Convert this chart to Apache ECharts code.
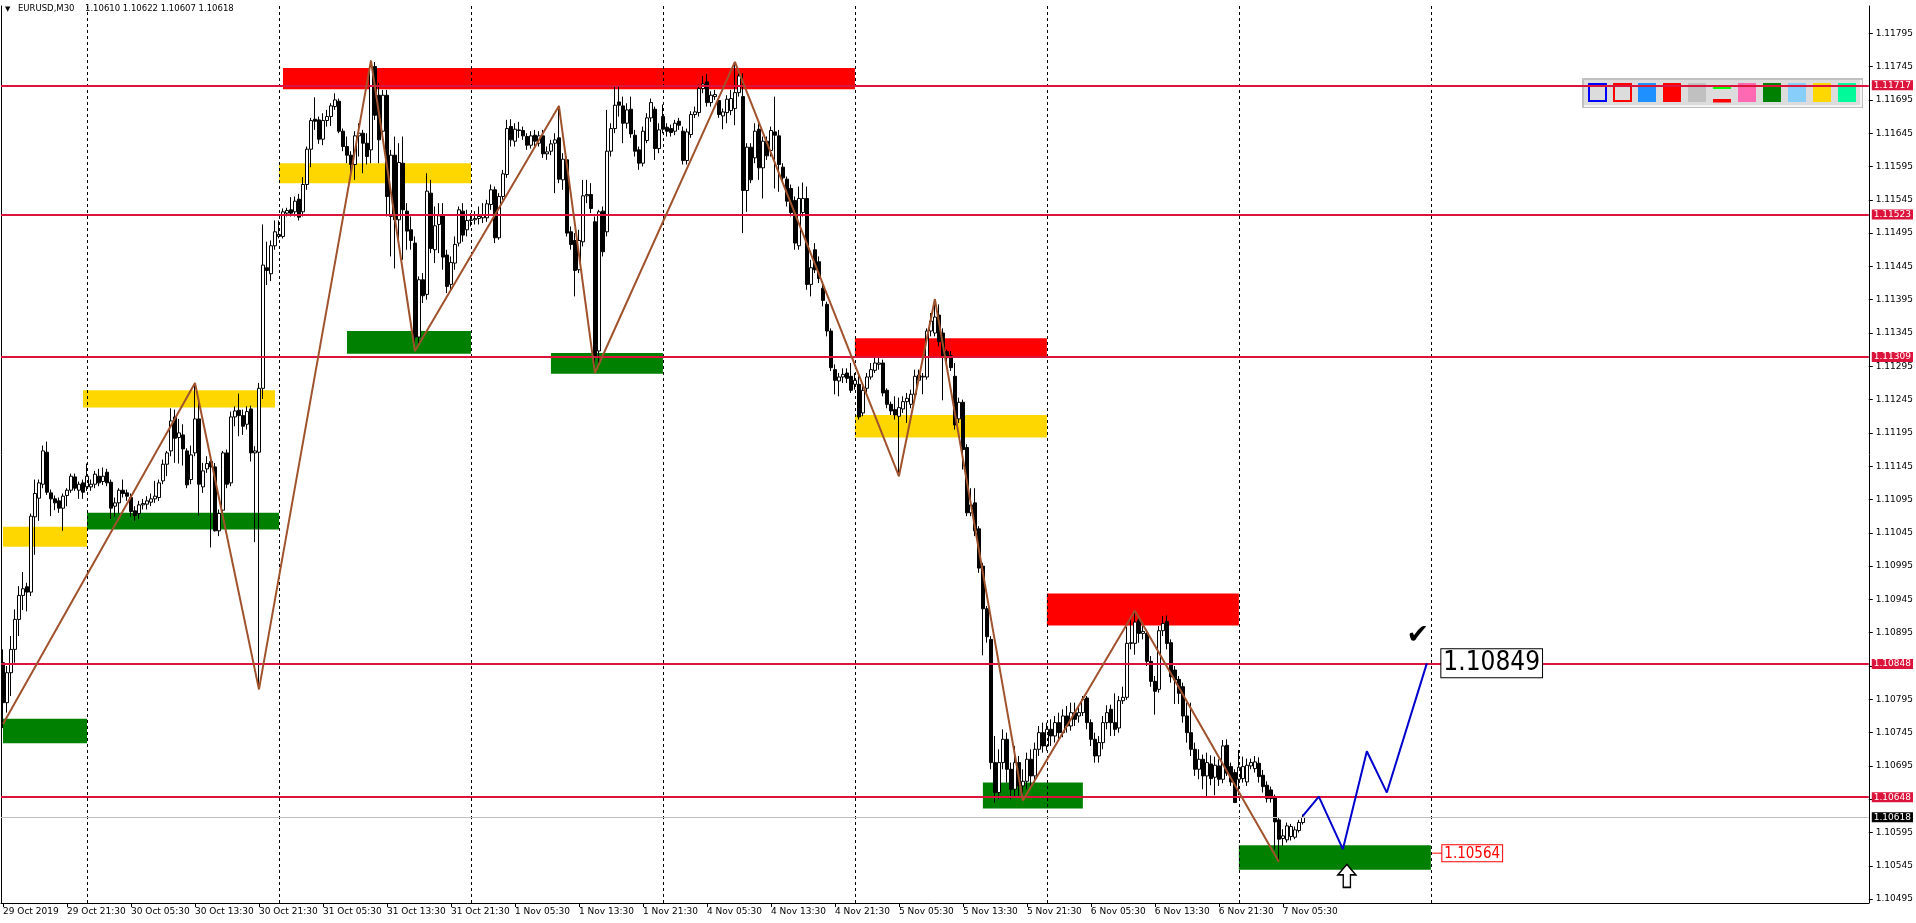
<!DOCTYPE html>
<html><head><meta charset="utf-8">
<script src="https://cdn.jsdelivr.net/npm/echarts@6/dist/echarts.min.js"></script>
<style>html,body{margin:0;padding:0;background:#fff}#c{width:1916px;height:923px}</style>
</head><body><div id="c"></div>
<script>
// ---------------- DATA ----------------
const opens=[
1.10850,1.10790,1.10835,1.10870,1.10915,1.10951,1.10964,1.10956,1.11069,1.11097,
1.11118,1.11166,1.11105,1.11096,1.11093,1.11082,1.11101,1.11109,1.11129,1.11109,
1.11120,1.11114,1.11114,1.11118,1.11130,1.11122,1.11136,1.11121,1.11085,1.11090,
1.11109,1.11105,1.11098,1.11078,1.11074,1.11087,1.11088,1.11091,1.11096,1.11098,
1.11123,1.11148,1.11168,1.11219,1.11188,1.11192,1.11168,1.11125,1.11165,1.11216,
1.11114,1.11141,1.11152,1.11144,1.11048,1.11079,1.11165,1.11120,1.11219,1.11229,
1.11221,1.11208,1.11231,1.11165,1.11166,1.11262,1.11443,1.11434,1.11476,1.11490,
1.11490,1.11525,1.11530,1.11527,1.11546,1.11527,1.11568,1.11621,1.11666,1.11665,
1.11636,1.11664,1.11670,1.11685,1.11693,1.11648,1.11625,1.11612,1.11598,1.11641,
1.11645,1.11630,1.11620,1.11745,1.11702,1.11648,1.11702,1.11520,1.11612,1.11515,
1.11600,1.11528,1.11500,1.11480,1.11339,1.11425,1.11403,1.11555,1.11470,1.11508,
1.11521,1.11462,1.11418,1.11450,1.11480,1.11528,1.11500,1.11514,1.11515,1.11517,
1.11518,1.11518,1.11538,1.11560,1.11488,1.11550,1.11583,1.11655,1.11633,1.11650,
1.11649,1.11640,1.11627,1.11642,1.11630,1.11641,1.11614,1.11618,1.11630,1.11638,
1.11575,1.11605,1.11497,1.11484,1.11440,1.11482,1.11551,1.11553,1.11512,1.11318,
1.11528,1.11497,1.11618,1.11652,1.11692,1.11686,1.11660,1.11681,1.11642,1.11620,
1.11600,1.11634,1.11668,1.11681,1.11622,1.11670,1.11654,1.11652,1.11648,1.11663,
1.11648,1.11604,1.11643,1.11673,1.11676,1.11712,1.11722,1.11691,1.11700,1.11694,
1.11671,1.11676,1.11679,1.11682,1.11706,1.11700,1.11559,1.11624,1.11608,1.11651,
1.11593,1.11633,1.11619,1.11647,1.11641,1.11594,1.11576,1.11562,1.11544,1.11476,
1.11526,1.11547,1.11418,1.11470,1.11452,1.11412,1.11388,1.11348,1.11290,1.11273,
1.11279,1.11285,1.11280,1.11268,1.11268,1.11225,1.11262,1.11279,1.11289,1.11298,
1.11300,1.11259,1.11238,1.11230,1.11220,1.11231,1.11242,1.11238,1.11253,1.11274,
1.11279,1.11279,1.11348,1.11345,1.11372,1.11345,1.11317,1.11311,1.11280,1.11216,
1.11241,1.11173,1.11075,1.11090,1.11051,1.10995,1.10931,1.10885,1.10700,1.10655,
1.10700,1.10735,1.10690,1.10660,1.10700,1.10665,1.10672,1.10705,1.10680,1.10720,
1.10745,1.10725,1.10750,1.10740,1.10760,1.10745,1.10770,1.10755,1.10775,1.10770,
1.10775,1.10797,1.10760,1.10735,1.10710,1.10730,1.10760,1.10780,1.10760,1.10752,
1.10793,1.10798,1.10879,1.10879,1.10914,1.10894,1.10894,1.10852,1.10822,1.10810,
1.10898,1.10912,1.10880,1.10839,1.10825,1.10814,1.10770,1.10745,1.10720,1.10690,
1.10705,1.10680,1.10698,1.10678,1.10695,1.10675,1.10726,1.10694,1.10685,1.10675,
1.10676,1.10671,1.10695,1.10691,1.10699,1.10681,1.10666,1.10659,1.10649,1.10614,
1.10586,1.10584,1.10589,1.10588,1.10598,1.10610];
const highs=[
1.10870,1.10845,1.10890,1.10930,1.10965,1.10986,1.10970,1.11074,1.11125,1.11125,
1.11176,1.11182,1.11110,1.11101,1.11098,1.11104,1.11112,1.11134,1.11134,1.11122,
1.11125,1.11149,1.11125,1.11138,1.11141,1.11143,1.11141,1.11125,1.11098,1.11112,
1.11125,1.11110,1.11104,1.11085,1.11093,1.11096,1.11100,1.11104,1.11123,1.11125,
1.11155,1.11168,1.11232,1.11230,1.11216,1.11208,1.11172,1.11176,1.11270,1.11240,
1.11150,1.11160,1.11160,1.11150,1.11080,1.11168,1.11170,1.11227,1.11235,1.11254,
1.11230,1.11235,1.11236,1.11175,1.11270,1.11508,1.11482,1.11484,1.11514,1.11514,
1.11532,1.11533,1.11549,1.11550,1.11554,1.11579,1.11625,1.11668,1.11699,1.11670,
1.11675,1.11680,1.11690,1.11705,1.11697,1.11652,1.11640,1.11618,1.11648,1.11660,
1.11650,1.11645,1.11754,1.11752,1.11720,1.11710,1.11710,1.11620,1.11640,1.11630,
1.11640,1.11540,1.11520,1.11490,1.11430,1.11435,1.11585,1.11575,1.11535,1.11540,
1.11540,1.11470,1.11460,1.11490,1.11535,1.11540,1.11530,1.11525,1.11528,1.11535,
1.11540,1.11545,1.11568,1.11565,1.11555,1.11590,1.11665,1.11666,1.11660,1.11662,
1.11655,1.11645,1.11648,1.11650,1.11648,1.11650,1.11625,1.11635,1.11645,1.11686,
1.11615,1.11610,1.11505,1.11495,1.11500,1.11575,1.11575,1.11570,1.11520,1.11530,
1.11535,1.11680,1.11660,1.11715,1.11715,1.11700,1.11690,1.11700,1.11650,1.11625,
1.11655,1.11675,1.11697,1.11685,1.11660,1.11688,1.11660,1.11658,1.11665,1.11668,
1.11655,1.11652,1.11678,1.11685,1.11718,1.11731,1.11734,1.11708,1.11710,1.11700,
1.11682,1.11702,1.11710,1.11752,1.11740,1.11735,1.11630,1.11630,1.11660,1.11660,
1.11640,1.11640,1.11655,1.11700,1.11650,1.11600,1.11580,1.11568,1.11550,1.11565,
1.11571,1.11565,1.11455,1.11480,1.11460,1.11420,1.11392,1.11352,1.11298,1.11285,
1.11292,1.11292,1.11300,1.11285,1.11285,1.11265,1.11285,1.11300,1.11310,1.11308,
1.11305,1.11262,1.11242,1.11250,1.11248,1.11250,1.11255,1.11260,1.11290,1.11290,
1.11285,1.11352,1.11375,1.11396,1.11388,1.11352,1.11320,1.11318,1.11300,1.11248,
1.11245,1.11178,1.11112,1.11112,1.11055,1.11000,1.10935,1.10890,1.10740,1.10720,
1.10750,1.10745,1.10700,1.10725,1.10710,1.10690,1.10715,1.10720,1.10730,1.10755,
1.10760,1.10760,1.10765,1.10770,1.10775,1.10780,1.10785,1.10790,1.10790,1.10785,
1.10800,1.10800,1.10765,1.10745,1.10740,1.10770,1.10786,1.10787,1.10804,1.10800,
1.10814,1.10904,1.10916,1.10928,1.10920,1.10905,1.10900,1.10860,1.10830,1.10905,
1.10920,1.10921,1.10885,1.10845,1.10830,1.10820,1.10790,1.10790,1.10730,1.10720,
1.10712,1.10715,1.10711,1.10709,1.10705,1.10734,1.10735,1.10700,1.10690,1.10719,
1.10709,1.10706,1.10706,1.10710,1.10708,1.10689,1.10672,1.10664,1.10652,1.10618,
1.10600,1.10610,1.10608,1.10604,1.10614,1.10622];
const lows=[
1.10752,1.10775,1.10800,1.10850,1.10890,1.10929,1.10927,1.10950,1.11012,1.11063,
1.11112,1.11102,1.11070,1.11079,1.11075,1.11048,1.11085,1.11105,1.11108,1.11096,
1.11096,1.11108,1.11108,1.11112,1.11115,1.11117,1.11115,1.11066,1.11069,1.11074,
1.11098,1.11093,1.11069,1.11063,1.11066,1.11080,1.11080,1.11085,1.11090,1.11093,
1.11118,1.11130,1.11160,1.11150,1.11149,1.11146,1.11112,1.11118,1.11160,1.11071,
1.11105,1.11135,1.11023,1.11047,1.11040,1.11075,1.11112,1.11115,1.11205,1.11190,
1.11192,1.11200,1.11152,1.11031,1.10810,1.11246,1.11417,1.11423,1.11470,1.11487,
1.11487,1.11520,1.11520,1.11520,1.11514,1.11520,1.11560,1.11594,1.11650,1.11629,
1.11627,1.11655,1.11656,1.11680,1.11645,1.11618,1.11600,1.11583,1.11575,1.11610,
1.11585,1.11598,1.11600,1.11665,1.11600,1.11640,1.11520,1.11460,1.11442,1.11480,
1.11455,1.11470,1.11470,1.11318,1.11325,1.11390,1.11395,1.11465,1.11450,1.11465,
1.11440,1.11405,1.11410,1.11440,1.11475,1.11482,1.11490,1.11505,1.11508,1.11508,
1.11510,1.11512,1.11530,1.11480,1.11485,1.11545,1.11578,1.11625,1.11625,1.11638,
1.11635,1.11620,1.11622,1.11625,1.11625,1.11608,1.11605,1.11612,1.11555,1.11570,
1.11560,1.11490,1.11470,1.11400,1.11435,1.11475,1.11540,1.11525,1.11285,1.11300,
1.11460,1.11490,1.11610,1.11645,1.11670,1.11630,1.11652,1.11638,1.11610,1.11590,
1.11595,1.11630,1.11662,1.11605,1.11615,1.11645,1.11640,1.11640,1.11642,1.11650,
1.11598,1.11598,1.11638,1.11668,1.11670,1.11705,1.11685,1.11685,1.11695,1.11668,
1.11651,1.11660,1.11672,1.11657,1.11700,1.11495,1.11527,1.11570,1.11600,1.11575,
1.11547,1.11605,1.11610,1.11562,1.11557,1.11570,1.11535,1.11520,1.11470,1.11470,
1.11520,1.11410,1.11400,1.11435,1.11420,1.11385,1.11340,1.11288,1.11253,1.11250,
1.11270,1.11270,1.11255,1.11260,1.11215,1.11220,1.11255,1.11275,1.11285,1.11290,
1.11250,1.11232,1.11222,1.11215,1.11130,1.11225,1.11210,1.11232,1.11248,1.11270,
1.11253,1.11275,1.11340,1.11340,1.11325,1.11244,1.11300,1.11288,1.11200,1.11210,
1.11140,1.11070,1.11070,1.11040,1.10985,1.10861,1.10880,1.10690,1.10640,1.10645,
1.10690,1.10670,1.10645,1.10650,1.10650,1.10643,1.10660,1.10665,1.10670,1.10710,
1.10715,1.10718,1.10725,1.10730,1.10735,1.10738,1.10745,1.10748,1.10755,1.10760,
1.10770,1.10750,1.10725,1.10700,1.10700,1.10720,1.10750,1.10740,1.10740,1.10745,
1.10788,1.10794,1.10870,1.10862,1.10880,1.10885,1.10845,1.10814,1.10772,1.10805,
1.10890,1.10870,1.10820,1.10788,1.10788,1.10760,1.10730,1.10710,1.10680,1.10675,
1.10660,1.10650,1.10666,1.10651,1.10665,1.10669,1.10680,1.10665,1.10640,1.10651,
1.10670,1.10665,1.10690,1.10685,1.10670,1.10655,1.10640,1.10640,1.10569,1.10551,
1.10575,1.10580,1.10583,1.10585,1.10595,1.10607];
const closes=[
1.10790,1.10835,1.10870,1.10915,1.10951,1.10961,1.10956,1.11070,1.11104,1.11120,
1.11168,1.11106,1.11096,1.11090,1.11082,1.11100,1.11109,1.11130,1.11112,1.11118,
1.11106,1.11130,1.11118,1.11133,1.11120,1.11130,1.11120,1.11082,1.11090,1.11109,
1.11104,1.11100,1.11077,1.11071,1.11087,1.11089,1.11093,1.11096,1.11100,1.11120,
1.11148,1.11165,1.11213,1.11187,1.11195,1.11171,1.11117,1.11162,1.11216,1.11118,
1.11138,1.11149,1.11144,1.11048,1.11074,1.11165,1.11118,1.11219,1.11228,1.11221,
1.11205,1.11227,1.11165,1.11168,1.11262,1.11447,1.11439,1.11476,1.11497,1.11493,
1.11527,1.11529,1.11525,1.11543,1.11519,1.11568,1.11621,1.11664,1.11663,1.11636,
1.11664,1.11670,1.11686,1.11695,1.11648,1.11625,1.11612,1.11598,1.11641,1.11645,
1.11630,1.11610,1.11745,1.11672,1.11635,1.11702,1.11550,1.11612,1.11515,1.11601,
1.11530,1.11498,1.11484,1.11339,1.11425,1.11401,1.11558,1.11472,1.11506,1.11521,
1.11459,1.11415,1.11451,1.11478,1.11530,1.11492,1.11514,1.11515,1.11517,1.11520,
1.11522,1.11539,1.11560,1.11488,1.11550,1.11584,1.11652,1.11635,1.11651,1.11649,
1.11641,1.11627,1.11641,1.11633,1.11641,1.11614,1.11617,1.11629,1.11635,1.11576,
1.11606,1.11495,1.11478,1.11439,1.11484,1.11551,1.11553,1.11532,1.11310,1.11527,
1.11467,1.11618,1.11652,1.11687,1.11687,1.11660,1.11680,1.11644,1.11618,1.11600,
1.11648,1.11668,1.11691,1.11622,1.11650,1.11651,1.11648,1.11646,1.11660,1.11657,
1.11604,1.11647,1.11673,1.11677,1.11712,1.11719,1.11691,1.11702,1.11703,1.11673,
1.11677,1.11696,1.11697,1.11706,1.11731,1.11559,1.11624,1.11575,1.11648,1.11593,
1.11633,1.11611,1.11649,1.11642,1.11598,1.11578,1.11543,1.11526,1.11480,1.11547,
1.11547,1.11418,1.11443,1.11440,1.11427,1.11394,1.11348,1.11293,1.11274,1.11279,
1.11283,1.11277,1.11259,1.11274,1.11219,1.11259,1.11279,1.11290,1.11300,1.11300,
1.11255,1.11238,1.11228,1.11222,1.11233,1.11242,1.11247,1.11253,1.11280,1.11282,
1.11280,1.11348,1.11363,1.11369,1.11332,1.11311,1.11308,1.11293,1.11207,1.11241,
1.11170,1.11075,1.11087,1.11048,1.10992,1.10931,1.10889,1.10700,1.10655,1.10700,
1.10735,1.10690,1.10660,1.10700,1.10665,1.10672,1.10705,1.10680,1.10720,1.10745,
1.10725,1.10750,1.10740,1.10760,1.10745,1.10770,1.10755,1.10775,1.10765,1.10775,
1.10795,1.10760,1.10735,1.10710,1.10730,1.10760,1.10775,1.10760,1.10750,1.10793,
1.10798,1.10879,1.10880,1.10911,1.10894,1.10897,1.10852,1.10822,1.10807,1.10898,
1.10909,1.10879,1.10829,1.10824,1.10804,1.10770,1.10745,1.10720,1.10690,1.10705,
1.10680,1.10700,1.10676,1.10696,1.10675,1.10725,1.10684,1.10671,1.10640,1.10693,
1.10694,1.10696,1.10700,1.10701,1.10679,1.10664,1.10646,1.10646,1.10611,1.10585,
1.10590,1.10605,1.10604,1.10599,1.10610,1.10618];

const xTickLabels=['29 Oct 2019','29 Oct 21:30','30 Oct 05:30','30 Oct 13:30','30 Oct 21:30',
'31 Oct 05:30','31 Oct 13:30','31 Oct 21:30','1 Nov 05:30','1 Nov 13:30','1 Nov 21:30',
'4 Nov 05:30','4 Nov 13:30','4 Nov 21:30','5 Nov 05:30','5 Nov 13:30','5 Nov 21:30',
'6 Nov 05:30','6 Nov 13:30','6 Nov 21:30','7 Nov 05:30'];
const yTickValues=[1.10495,1.10545,1.10595,1.10645,1.10695,1.10745,1.10795,1.10845,1.10895,
1.10945,1.10995,1.11045,1.11095,1.11145,1.11195,1.11245,1.11295,1.11345,1.11395,1.11445,
1.11495,1.11545,1.11595,1.11645,1.11695,1.11745,1.11795];
const hLevels=[1.11717,1.11523,1.11309,1.10848,1.10648];
const bidLevel=1.10618;
const dayLines=[21,69,117,165,213,261,309,357];
const zigIdx=[0,48,64,92,103,139,148,183,224,233,255,283,319];
const zigPrice=[1.10758,1.11270,1.10810,1.11754,1.11318,1.11686,1.11285,1.11752,1.11130,1.11396,1.10643,1.10928,1.10551];
const projIdx=[325,329,335,341,346,356];
const projPrice=[1.10620,1.10649,1.10570,1.10717,1.10655,1.10849];
const zoneFrom=[0,0,20,21,70,69,86,137,213,213,261,245,309];
const zoneTo=[21,21,68,69,213,117,117,165,261,261,309,270,357];
const zoneTop=[1.11054,1.10766,1.11259,1.11075,1.11743,1.11600,1.11348,1.11315,1.11337,1.11222,1.10954,1.10670,1.10576];
const zoneBottom=[1.11024,1.10729,1.11233,1.11050,1.11711,1.11570,1.11314,1.11284,1.11308,1.11188,1.10906,1.10631,1.10539];
const zoneColor=['#FFD700','#008000','#FFD700','#008000','#FF0000','#FFD700','#008000','#008000','#FF0000','#FFD700','#FF0000','#008000','#008000'];
const targetIdx=356, targetPrice=1.10849;
const stopIdx=357, stopPrice=1.10564;
const arrowIdx=336, arrowPrice=1.10530;
const symbolName='EURUSD,M30';
const ohlcText='1.10610 1.10622 1.10607 1.10618';
const paletteColors=['#0000FF','#FF0000','#1E90FF','#FF0000','#C0C0C0','split','#FF69B4','#008000','#87CEFA','#FFD700','#00FA9A'];
const nSlots=467;
const yMin=1.104892, yMax=1.11836;

// ---------------- CHART ----------------
const FONT='"DejaVu Sans", sans-serif';
const cats=[]; for(let i=0;i<nSlots;i++) cats.push(String(i));
const candleData=opens.map((o,i)=>[o,closes[i],lows[i],highs[i]]);
const showTick=(i)=>i%16===0 && i/16<xTickLabels.length;

const zones=zoneFrom.map((f,k)=>[
  {xAxis:f,yAxis:zoneTop[k],itemStyle:{color:zoneColor[k],opacity:1}},
  {xAxis:zoneTo[k],yAxis:zoneBottom[k]}]);

const lvlLabel=(v,bg)=>({show:true,position:'end',distance:3,formatter:v.toFixed(5),color:'#fff',backgroundColor:bg,
  padding:[1,2,0,2],fontSize:9,fontFamily:FONT});
const hLineData=[{yAxis:bidLevel,lineStyle:{color:'#C0C0C0',width:1,type:'solid'},label:lvlLabel(bidLevel,'#000')}]
  .concat(hLevels.map(v=>({yAxis:v,lineStyle:{color:'#DC143C',width:2,type:'solid'},label:lvlLabel(v,'#DC143C')})));

const graphics=[
  {type:'text',left:5,top:6,z:10,style:{text:'▼',font:'7px "DejaVu Sans"',fill:'#000'}},
  {type:'text',left:18,top:4,z:10,style:{text:symbolName,font:'8.5px "DejaVu Sans"',fill:'#000'}},
  {type:'text',left:85,top:4,z:10,style:{text:ohlcText,font:'8.5px "DejaVu Sans"',fill:'#000'}},
  {type:'rect',z:0,shape:{x:1582,y:78,width:281,height:30},style:{fill:'#C0C0C0'}},
  {type:'rect',z:0,shape:{x:1584,y:80,width:278,height:27},style:{fill:'#F4F4F4'}},
  {type:'rect',z:0,shape:{x:1584,y:80,width:276,height:25},style:{fill:'#DCDCDC'}}
];
paletteColors.forEach((c,k)=>{
  const x=1588+25*k;
  if(k<2){graphics.push({type:'rect',z:0,shape:{x:x+1,y:84,width:17,height:17},style:{fill:'none',stroke:c,lineWidth:2}});}
  else if(c==='split'){
    graphics.push({type:'rect',z:0,shape:{x:x,y:86.5,width:18,height:2.5},style:{fill:'#00FF00'}});
    graphics.push({type:'rect',z:0,shape:{x:x,y:99,width:18,height:3.5},style:{fill:'#FF0000'}});
  } else graphics.push({type:'rect',z:0,shape:{x:x,y:83,width:18,height:19},style:{fill:c}});
});

const chart=echarts.init(document.getElementById('c'),null,{renderer:'canvas'});
chart.setOption({
  animation:false,
  backgroundColor:'#fff',
  grid:{left:1,right:47,top:6,bottom:20,containLabel:false},
  xAxis:{type:'category',data:cats,boundaryGap:true,
    axisLine:{show:true,lineStyle:{color:'#000',width:1}},
    axisTick:{show:true,alignWithLabel:true,length:4,interval:showTick,lineStyle:{color:'#000'}},
    axisLabel:{interval:showTick,formatter:(v,i)=>xTickLabels[i/16]||'',align:'left',margin:4,
      fontSize:9,color:'#000',fontFamily:FONT},
    splitLine:{show:false}},
  yAxis:[
    {type:'value',position:'right',min:yMin,max:yMax,
     axisLine:{show:true,lineStyle:{color:'#000'}},
     axisTick:{show:true,length:4,customValues:yTickValues,lineStyle:{color:'#000'}},
     axisLabel:{customValues:yTickValues,formatter:v=>v.toFixed(5),fontSize:9,margin:7,color:'#000',fontFamily:FONT},
     splitLine:{show:false}},
    {type:'value',position:'left',min:yMin,max:yMax,
     axisLine:{show:true,lineStyle:{color:'#000'}},axisTick:{show:false},axisLabel:{show:false},splitLine:{show:false}}
  ],
  graphic:graphics,
  series:[
    {type:'line',name:'zones',data:[],z:1,silent:true,
     markArea:{silent:true,data:zones}},
    {type:'line',name:'days',data:[],z:2,silent:true,
     markLine:{silent:true,symbol:['none','none'],precision:0,data:dayLines.map(i=>({xAxis:i})),
       lineStyle:{color:'#000',width:1,type:[3,3]},label:{show:false}}},
    {type:'candlestick',name:'EURUSD',data:candleData,barWidth:3,z:3,
     itemStyle:{color:'#FFFFFF',color0:'#000000',borderColor:'#000000',borderColor0:'#000000',borderWidth:1}},
    {type:'line',name:'zigzag',data:zigIdx.map((x,k)=>[x,zigPrice[k]]),z:5,showSymbol:false,silent:true,
     lineStyle:{color:'#A0522D',width:2},
     markLine:{silent:true,symbol:['none','none'],precision:5,data:hLineData}},
    {type:'line',name:'projection',data:projIdx.map((x,k)=>[x,projPrice[k]]),z:5,showSymbol:false,silent:true,
     lineStyle:{color:'#0000CD',width:2},
     markPoint:{silent:true,data:[
       {coord:[targetIdx,targetPrice],symbol:'circle',symbolSize:1,itemStyle:{color:'rgba(0,0,0,0)'},
        label:{show:true,position:'right',distance:14,formatter:targetPrice.toFixed(5),fontSize:26,
          fontFamily:'"DejaVu Sans Condensed","DejaVu Sans",sans-serif',color:'#000',backgroundColor:'#fff',
          borderColor:'#000',borderWidth:1,padding:[2,2,0,2]}},
       {coord:[targetIdx,targetPrice],symbol:'circle',symbolSize:1,itemStyle:{color:'rgba(0,0,0,0)'},
        label:{show:true,position:'inside',offset:[-9,-27],formatter:'✔',fontSize:27,color:'#000',
          fontFamily:'"DejaVu Sans",sans-serif'}},
       {coord:[stopIdx,stopPrice],symbol:'circle',symbolSize:1,itemStyle:{color:'rgba(0,0,0,0)'},
        label:{show:true,position:'right',distance:1,formatter:'{l|}{b|'+stopPrice.toFixed(5)+'}',
          rich:{l:{width:10,height:1,backgroundColor:'#FF0000'},
                b:{color:'#FF0000',fontSize:15,fontFamily:'"DejaVu Sans Condensed","DejaVu Sans",sans-serif',
                   borderColor:'#FF0000',borderWidth:1,backgroundColor:'#fff',padding:[1,2,0,2]}}}},
       {coord:[arrowIdx,arrowPrice],symbol:'path://M10,0 L20,11 L14,11 L14,24 L6,24 L6,11 L0,11 Z',
        symbolSize:[18,23],itemStyle:{color:'#fff',borderColor:'#000',borderWidth:1.5},label:{show:false}}
     ]}}
  ]
});
</script>
</body></html>
